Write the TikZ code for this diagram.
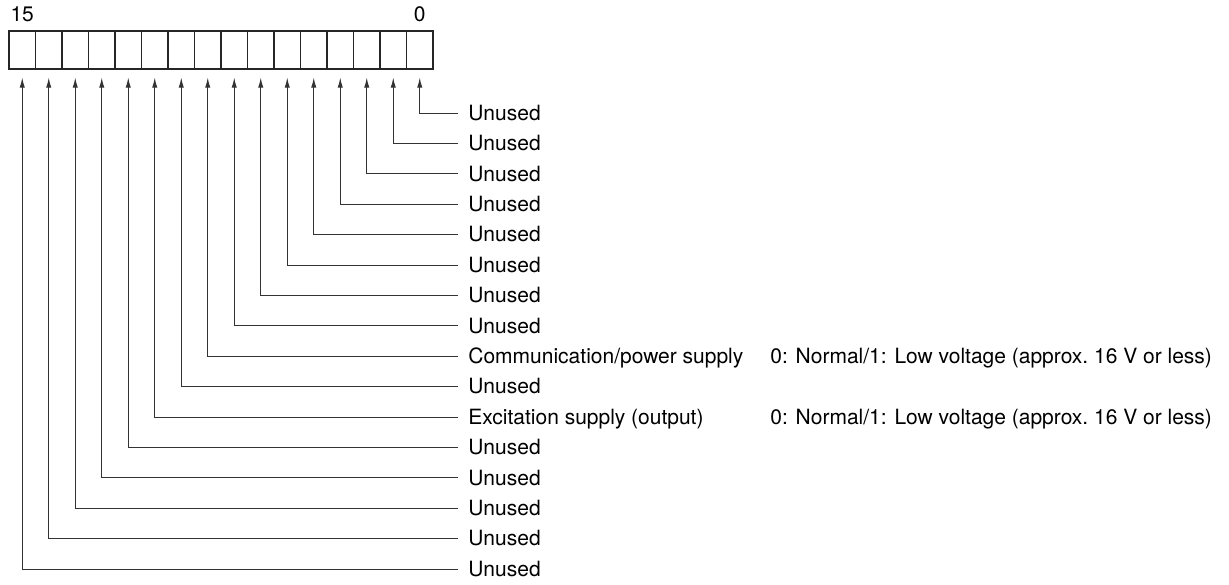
\documentclass[tikz,border=0pt]{standalone}
\usepackage{fontspec}
\setmainfont{TeX Gyre Heros}
\usetikzlibrary{arrows.meta,positioning}
\tikzset{
  >={Latex[length=5pt,width=2.6pt]},
  bitcell/.style={
    draw=black!85,
    line width=0.55pt,
    minimum width=13.25pt,
    minimum height=19pt,
    inner sep=0pt
  },
  bitnum/.style={inner sep=0pt, font=\fontsize{10.5}{12}\selectfont},
  bitlabel/.style={
    anchor=west,
    inner xsep=5pt,
    inner ysep=0pt,
    text height=0.72em,
    text depth=0pt,
    font=\fontsize{10.5}{12}\selectfont
  },
  bitnote/.style={bitlabel, inner xsep=0pt},
  bitline/.style={->, line width=0.5pt, draw=black!80, shorten >=4pt}
}
\begin{document}
\begin{tikzpicture}[x=0.5pt,y=-0.5pt]
\useasboundingbox (0,0) rectangle (1229,584);
% the 16 bits of the word
\foreach \b in {0,...,15}{
\node[bitcell] (b\b) at ({22.25+(15-\b)*26.5},50) {};
}
\node[bitnum,above=4pt of b15] (num15) {15};
\node[bitnum,above=4pt of b0] (num0) {0};
% what each bit means
\foreach \b in {0,...,7,9,11,12,13,14,15}{
\node[bitlabel] (l\b) at (458,{113+30.4*\b}) {Unused};
}
\node[bitlabel] (l8) at (458,{113+30.4*8}) {Communication/power supply};
\node[bitlabel] (l10) at (458,{113+30.4*10}) {Excitation supply (output)};
\node[bitnote] (note8) at (770,{113+30.4*8}) {0: Normal/1: Low voltage (approx.\ 16 V or less)};
\node[bitnote] (note10) at (770,{113+30.4*10}) {0: Normal/1: Low voltage (approx.\ 16 V or less)};
\foreach \b in {0,...,15}{
\draw[bitline] (l\b.west) -| (b\b.south);
}
\end{tikzpicture}
\end{document}
